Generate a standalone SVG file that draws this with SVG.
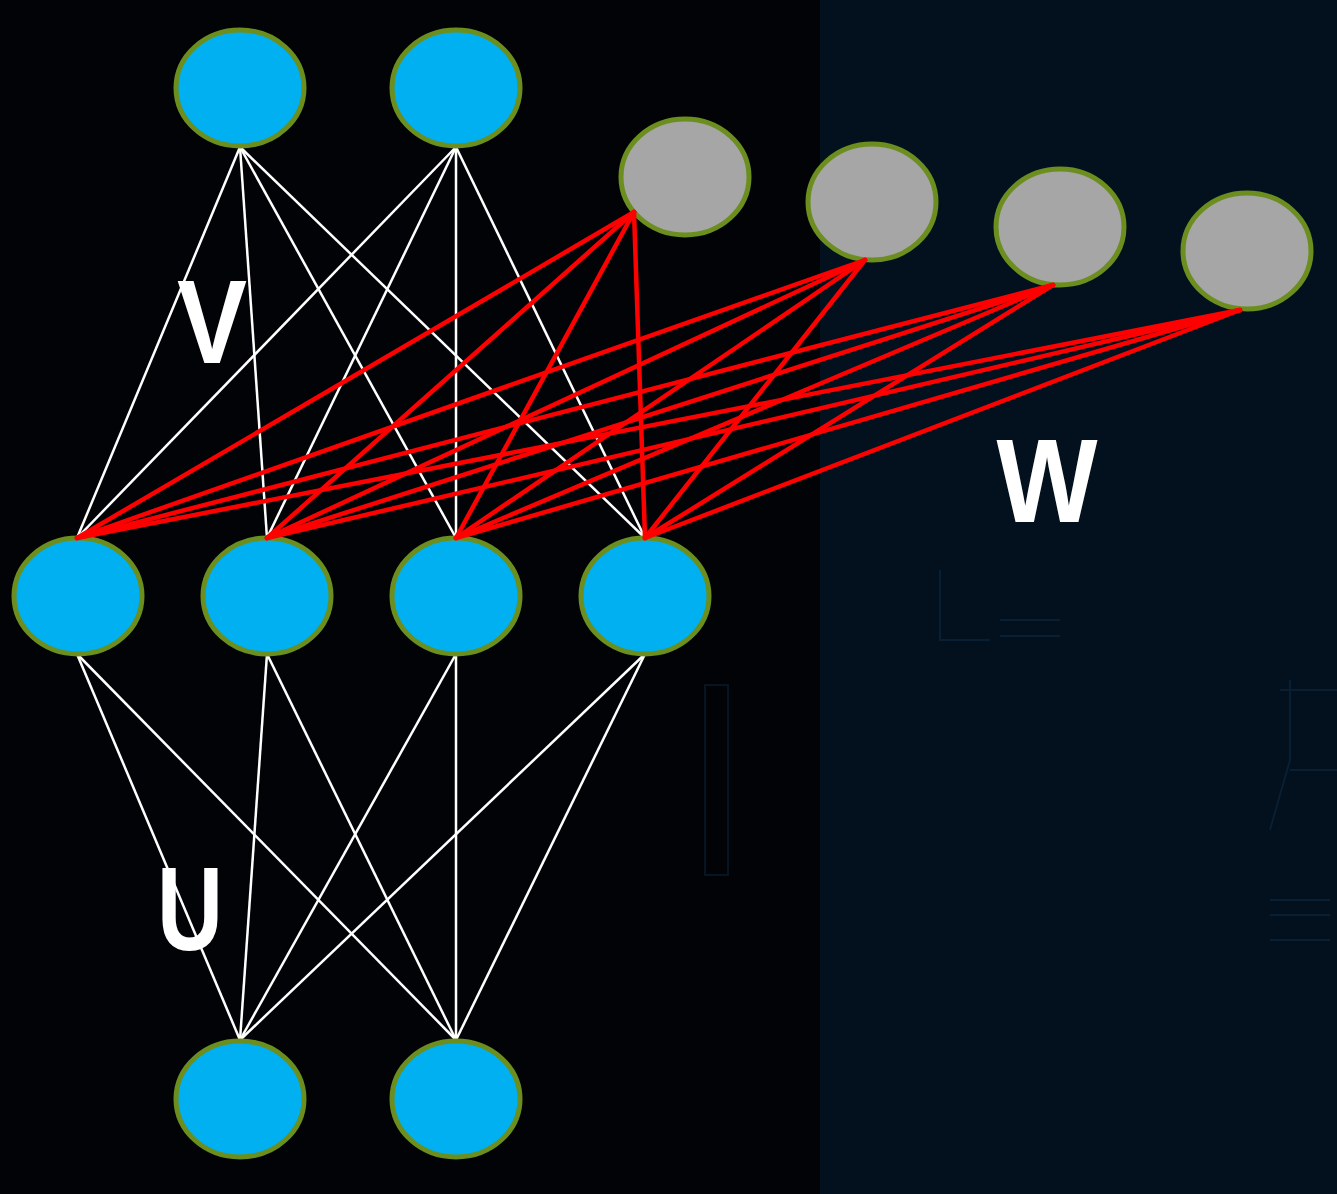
<svg xmlns="http://www.w3.org/2000/svg" width="1337" height="1194" viewBox="0 0 1337 1194">
<style>
.blue{fill:#00b0f0;stroke:#6b8e1e;stroke-width:5}
.gray{fill:#a6a6a6;stroke:#6b8e1e;stroke-width:5}
.w{stroke:#ffffff;stroke-width:2.5;fill:none}
.r{stroke:#ff0000;stroke-width:4.5;fill:none;stroke-linecap:round}
.lbl{font-family:"Liberation Sans","DejaVu Sans",sans-serif;font-weight:bold;font-size:118px;fill:#ffffff;text-anchor:middle}
.bg{stroke:#1a4a78;stroke-width:2;fill:none;opacity:0.25}
</style>
<rect x="0" y="0" width="1337" height="1194" fill="#010306"/>
<rect x="820" y="0" width="517" height="1194" fill="#03101d"/>
<g id="background-pattern">
<path class="bg" d="M1000 620 H1060 M1000 636 H1060 M1280 690 H1337 M1290 680 V760 L1270 830 M1290 770 H1337 M1270 900 H1330 M1270 915 H1330 M1270 940 H1330"/>
<path class="bg" d="M705 685 H728 V875 H705 Z M940 570 V640 H990"/>
</g>
<g id="connectors">
<g id="U-edges">
<line class="w" x1="77" y1="654" x2="240" y2="1040"/>
<line class="w" x1="77" y1="654" x2="456" y2="1040"/>
<line class="w" x1="267" y1="654" x2="240" y2="1040"/>
<line class="w" x1="267" y1="654" x2="456" y2="1040"/>
<line class="w" x1="456" y1="654" x2="240" y2="1040"/>
<line class="w" x1="456" y1="654" x2="456" y2="1040"/>
<line class="w" x1="645" y1="654" x2="240" y2="1040"/>
<line class="w" x1="645" y1="654" x2="456" y2="1040"/>
</g>
<g id="V-edges">
<line class="w" x1="240" y1="147" x2="77" y2="538"/>
<line class="w" x1="240" y1="147" x2="267" y2="538"/>
<line class="w" x1="240" y1="147" x2="456" y2="538"/>
<line class="w" x1="240" y1="147" x2="645" y2="538"/>
<line class="w" x1="456" y1="147" x2="77" y2="538"/>
<line class="w" x1="456" y1="147" x2="267" y2="538"/>
<line class="w" x1="456" y1="147" x2="456" y2="538"/>
<line class="w" x1="456" y1="147" x2="645" y2="538"/>
</g>
</g>
<g id="node-v1"><ellipse class="blue" cx="240" cy="88" rx="64" ry="58"/></g>
<g id="node-v2"><ellipse class="blue" cx="456" cy="88" rx="64" ry="58"/></g>
<g id="node-g1"><ellipse class="gray" cx="685" cy="177" rx="64" ry="58"/></g>
<g id="node-g2"><ellipse class="gray" cx="872" cy="202" rx="64" ry="58"/></g>
<g id="node-g3"><ellipse class="gray" cx="1060" cy="227" rx="64" ry="58"/></g>
<g id="node-g4"><ellipse class="gray" cx="1247" cy="251" rx="64" ry="58"/></g>
<g id="node-h1"><ellipse class="blue" cx="78" cy="596" rx="64" ry="58"/></g>
<g id="node-h2"><ellipse class="blue" cx="267" cy="596" rx="64" ry="58"/></g>
<g id="node-h3"><ellipse class="blue" cx="456" cy="596" rx="64" ry="58"/></g>
<g id="node-h4"><ellipse class="blue" cx="645" cy="596" rx="64" ry="58"/></g>
<g id="node-x1"><ellipse class="blue" cx="240" cy="1099" rx="64" ry="58"/></g>
<g id="node-x2"><ellipse class="blue" cx="456" cy="1099" rx="64" ry="58"/></g>
<g id="W-edges">
<line class="r" x1="634" y1="212" x2="77" y2="538"/>
<line class="r" x1="634" y1="212" x2="267" y2="538"/>
<line class="r" x1="634" y1="212" x2="456" y2="538"/>
<line class="r" x1="634" y1="212" x2="645" y2="538"/>
<line class="r" x1="865" y1="260" x2="77" y2="538"/>
<line class="r" x1="865" y1="260" x2="267" y2="538"/>
<line class="r" x1="865" y1="260" x2="456" y2="538"/>
<line class="r" x1="865" y1="260" x2="645" y2="538"/>
<line class="r" x1="1053" y1="285" x2="77" y2="538"/>
<line class="r" x1="1053" y1="285" x2="267" y2="538"/>
<line class="r" x1="1053" y1="285" x2="456" y2="538"/>
<line class="r" x1="1053" y1="285" x2="645" y2="538"/>
<line class="r" x1="1240" y1="310" x2="77" y2="538"/>
<line class="r" x1="1240" y1="310" x2="267" y2="538"/>
<line class="r" x1="1240" y1="310" x2="456" y2="538"/>
<line class="r" x1="1240" y1="310" x2="645" y2="538"/>
</g>
<g id="labels">
<text class="lbl" x="212" y="363" textLength="70" lengthAdjust="spacingAndGlyphs">V</text>
<text class="lbl" x="1047" y="522" textLength="101" lengthAdjust="spacingAndGlyphs">W</text>
<text class="lbl" x="190" y="950" textLength="66" lengthAdjust="spacingAndGlyphs">U</text>
</g>
</svg>
